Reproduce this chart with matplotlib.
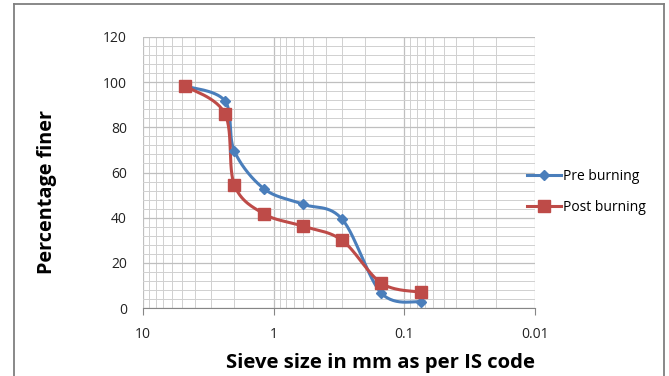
import numpy as np
import matplotlib
matplotlib.use("Agg")
import matplotlib.pyplot as plt
from matplotlib.lines import Line2D
from matplotlib.ticker import LogLocator, FixedLocator, NullFormatter

sieve = [4.75, 2.36, 2.0, 1.18, 0.6, 0.3, 0.15, 0.075]
pre_burning = [98.3, 91.7, 69.5, 52.7, 46.0, 39.4, 6.6, 2.7]
post_burning = [98.3, 86.0, 54.5, 41.6, 36.3, 30.0, 11.0, 7.0]
x_ticks = [10, 1, 0.1, 0.01]
x_ticklabels = ["10", "1", "0.1", "0.01"]
y_ticks = [0, 20, 40, 60, 80, 100, 120]

plt.rcParams['font.family'] = ['Open Sans', 'DejaVu Sans']

W, H = 669, 376
fig = plt.figure(figsize=(W/100, H/100), dpi=100)
ax = fig.add_axes([143/W, 1-308/H, (535-143)/W, (308-37)/H])

def smooth(xs, ys, n=30):
    # Catmull-Rom style smoothing in (log x, y) space, like spreadsheet smoothed lines
    lx = np.log10(xs)
    y = np.asarray(ys, float)
    P = np.column_stack([lx, y])
    P = np.vstack([P[0], P, P[-1]])
    out = []
    for i in range(1, len(P) - 2):
        p0, p1, p2, p3 = P[i-1], P[i], P[i+1], P[i+2]
        t = np.linspace(0, 1, n)[:, None]
        m1 = (p2 - p0) / 2
        m2 = (p3 - p1) / 2
        h00 = 2*t**3 - 3*t**2 + 1
        h10 = t**3 - 2*t**2 + t
        h01 = -2*t**3 + 3*t**2
        h11 = t**3 - t**2
        out.append(h00*p1 + h10*m1 + h01*p2 + h11*m2)
    S = np.vstack(out)
    return 10**S[:, 0], S[:, 1]

blue = '#4A7EBB'
red = '#BE4B48'

sx, sy = smooth(sieve, pre_burning)
ax.plot(sx, sy, color=blue, lw=2.2, zorder=3)
ax.plot(sieve, pre_burning, linestyle='none', marker='D', ms=5.5, color=blue, zorder=4)
sx, sy = smooth(sieve, post_burning)
ax.plot(sx, sy, color=red, lw=2.2, zorder=3)
ax.plot(sieve, post_burning, linestyle='none', marker='s', ms=9, color=red, zorder=4)

h1, = ax.plot([], [], color=blue, lw=2.2, marker='D', ms=5.5)
h2, = ax.plot([], [], color=red, lw=2.2, marker='s', ms=9)

ax.set_xscale('log')
ax.set_xlim(10, 0.01)
ax.set_ylim(0, 120)
ax.set_xticks(x_ticks)
ax.set_xticklabels(x_ticklabels)
ax.xaxis.set_minor_locator(LogLocator(base=10, subs=np.arange(2, 10)))
ax.xaxis.set_minor_formatter(NullFormatter())
ax.set_yticks(y_ticks)
ax.yaxis.set_minor_locator(FixedLocator(np.arange(0, 121, 4)))

ax.grid(which='major', axis='both', color='#BFBFBF', lw=0.9)
ax.grid(which='minor', axis='both', color='#D0D0D0', lw=0.7)
ax.set_axisbelow(True)

for s in ['top', 'right', 'left']:
    ax.spines[s].set_visible(False)
ax.spines['bottom'].set_color('#868686')
ax.tick_params(axis='both', which='both', length=0, labelsize=10, colors='#222222')
ax.tick_params(axis='x', which='major', length=5, direction='out', color='#868686', pad=9)
ax.tick_params(axis='y', pad=11.5)

fig.text(380/W, 1-363/H, 'Sieve size in mm as per IS code', fontsize=14.6, fontweight='bold',
         ha='center', va='center')
fig.text(47/W, 1-192/H, 'Percentage finer', fontsize=14.3, fontweight='bold',
         ha='center', va='center', rotation=90)

fig.legend([h1, h2], ['Pre burning', 'Post burning'], loc='center left',
           bbox_to_anchor=(514/W, 1-192/H), frameon=False, fontsize=10,
           handlelength=2.5, handletextpad=0.15, labelspacing=1.2, borderpad=0.4)

bc = '#7F7F7F'
xl, xr, yt = 13.5/W, 664/W, 1-4/H
fig.add_artist(Line2D([xl, xr], [yt, yt], transform=fig.transFigure, color=bc, lw=1.3))
fig.add_artist(Line2D([xl, xl], [0, yt], transform=fig.transFigure, color=bc, lw=1.3))
fig.add_artist(Line2D([xr, xr], [0, yt], transform=fig.transFigure, color=bc, lw=1.3))

fig.savefig('out.png', dpi=100)
